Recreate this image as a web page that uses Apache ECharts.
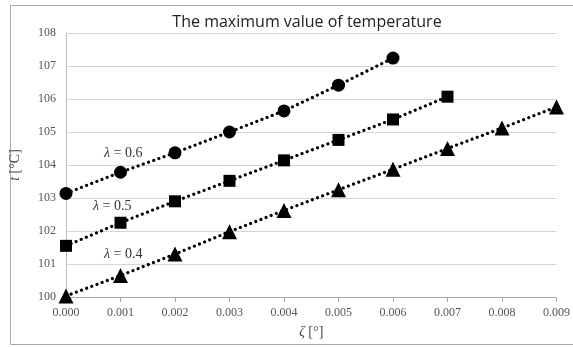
<!DOCTYPE html>
<html>
<head>
<meta charset="utf-8">
<script src="https://cdn.jsdelivr.net/npm/echarts@6/dist/echarts.min.js"></script>
<style>
    html, body { margin: 0; padding: 0; background: #fff; }
    #main { width: 573px; height: 347px; }
</style>
</head>
<body>
<div id="main"></div>
<script>
    // x values (zeta) and temperatures
    var zeta = [0, 0.001, 0.002, 0.003, 0.004, 0.005, 0.006, 0.007, 0.008, 0.009];
    var t06 = [103.14, 103.78, 104.37, 105.0, 105.64, 106.42, 107.24];
    var t05 = [101.55, 102.25, 102.9, 103.52, 104.14, 104.76, 105.38, 106.07];
    var t04 = [100.03, 100.65, 101.3, 101.98, 102.62, 103.25, 103.87, 104.5, 105.12, 105.76];
    var lambdaValues = ['0.6', '0.5', '0.4'];

    function pairs (ys) {
        return ys.map(function (y, i) { return [zeta[i], y] })
    }

    var myChart = echarts.init(document.getElementById('main'));

    function makeSeries (name, ys, symbol, size) {
        return {
            name: name,
            type: 'line',
            data: pairs(ys),
            symbol: symbol,
            symbolSize: size,
            itemStyle: { color: '#000' },
            lineStyle: { color: '#000', width: 3.2, type: [0.01, 5.5], cap: 'round' },
            animation: false
        }
    }

    function lambdaText (left, top, v) {
        return {
            type: 'text', left: left, top: top,
            style: {
                text: '{i|λ} = ' + v,
                font: '14px "Liberation Serif"',
                fill: '#333',
                rich: { i: { fontStyle: 'italic', fontFamily: 'Liberation Serif', fontSize: 14, fill: '#333' } }
            }
        }
    }

    myChart.setOption({
        title: {
            text: 'The maximum value of temperature',
            left: 302,
            top: 9,
            textAlign: 'center',
            textStyle: { fontFamily: 'Open Sans', fontSize: 16, fontWeight: 'normal', color: '#222' }
        },
        grid: { left: 63, right: 16, top: 33, bottom: 50 },
        xAxis: {
            type: 'value',
            min: 0, max: 0.009, interval: 0.001,
            name: '{i|ζ} [°]',
            nameLocation: 'middle',
            nameGap: 28,
            nameTextStyle: {
                fontFamily: 'Liberation Serif', fontSize: 14, color: '#444',
                rich: { i: { fontStyle: 'italic', fontFamily: 'Liberation Serif', fontSize: 14, color: '#444' } }
            },
            axisLine: { lineStyle: { color: '#aaa' } },
            axisTick: { show: true, length: 5, lineStyle: { color: '#aaa' } },
            axisLabel: {
                formatter: function (v) { return v.toFixed(3) },
                color: '#555', fontFamily: 'Liberation Serif', fontSize: 12, margin: 10
            },
            splitLine: { show: false }
        },
        yAxis: {
            type: 'value',
            min: 100, max: 108, interval: 1,
            name: '{i|t} [°C]',
            nameLocation: 'middle',
            nameGap: 44,
            nameTextStyle: {
                fontFamily: 'Liberation Serif', fontSize: 14, color: '#444',
                rich: { i: { fontStyle: 'italic', fontFamily: 'Liberation Serif', fontSize: 14, color: '#444' } }
            },
            axisLine: { show: true, lineStyle: { color: '#bbb' } },
            axisTick: { show: false },
            axisLabel: { color: '#555', fontFamily: 'Liberation Serif', fontSize: 12, margin: 10 },
            splitLine: { lineStyle: { color: '#d4d4d4' } }
        },
        graphic: [
            {
                type: 'rect', left: 8, top: 3, silent: true,
                shape: { width: 600, height: 339 },
                style: { fill: 'none', stroke: '#aaa', lineWidth: 1 }
            },
            lambdaText(104, 146, lambdaValues[0]),
            lambdaText(93, 199, lambdaValues[1]),
            lambdaText(104, 247, lambdaValues[2])
        ],
        series: [
            makeSeries('0.6', t06, 'circle', 13),
            makeSeries('0.5', t05, 'rect', 12),
            makeSeries('0.4', t04, 'triangle', 15)
        ]
    });
</script>
</body>
</html>
